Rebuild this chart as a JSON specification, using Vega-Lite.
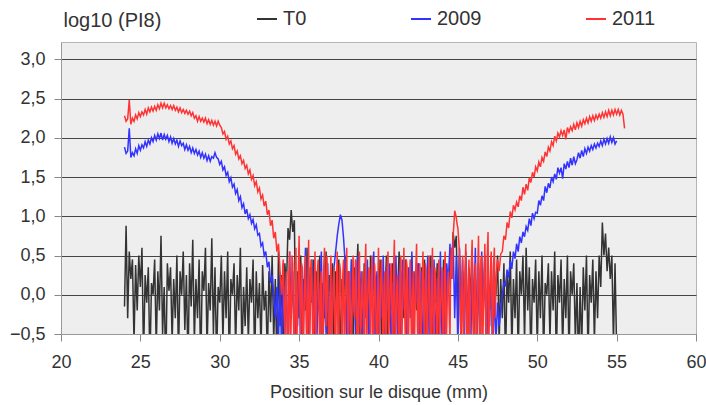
{
"$schema": "https://vega.github.io/schema/vega-lite/v6.json",
"width": 635, "height": 292,
"autosize": {"type": "none"},
"padding": {"left": 61, "top": 42, "right": 10, "bottom": 71},
"background": "white",
"config": {
  "font": "Liberation Sans",
  "view": {"fill": "#eeeeee", "stroke": "#b5b5b5", "strokeWidth": 1},
  "axis": {"labelColor": "#333333", "titleColor": "#333333", "labelFont": "Liberation Sans", "titleFont": "Liberation Sans", "titleFontWeight": "normal"}
},
"datasets": {
"t0": [
{"x":24.0,"y":-0.15},{"x":24.1,"y":0.88},{"x":24.2,"y":-0.3},{"x":24.3,"y":0.55},{"x":24.4,"y":0.2},{"x":24.5,"y":0.45},{"x":24.6,"y":-0.6},{"x":24.7,"y":0.38},{"x":24.8,"y":-0.2},{"x":24.9,"y":0.5},
{"x":25.0,"y":0.1},{"x":25.1,"y":0.6},{"x":25.2,"y":-0.8},{"x":25.3,"y":0.25},{"x":25.4,"y":-0.1},{"x":25.5,"y":0.35},{"x":25.6,"y":-0.9},{"x":25.7,"y":0.15},{"x":25.8,"y":0.0},{"x":25.9,"y":0.45},
{"x":26.0,"y":-0.7},{"x":26.1,"y":0.3},{"x":26.2,"y":-0.2},{"x":26.3,"y":0.75},{"x":26.4,"y":-0.5},{"x":26.5,"y":0.1},{"x":26.6,"y":-1.0},{"x":26.7,"y":0.4},{"x":26.8,"y":0.05},{"x":26.9,"y":0.35},
{"x":27.0,"y":-0.6},{"x":27.1,"y":0.2},{"x":27.2,"y":-0.3},{"x":27.3,"y":0.5},{"x":27.4,"y":-0.8},{"x":27.5,"y":0.3},{"x":27.6,"y":0.0},{"x":27.7,"y":0.55},{"x":27.8,"y":-0.45},{"x":27.9,"y":0.25},
{"x":28.0,"y":-0.9},{"x":28.1,"y":0.4},{"x":28.2,"y":-0.15},{"x":28.3,"y":0.7},{"x":28.4,"y":-0.6},{"x":28.5,"y":0.2},{"x":28.6,"y":-0.3},{"x":28.7,"y":0.45},{"x":28.8,"y":-1.0},{"x":28.9,"y":0.3},
{"x":29.0,"y":0.05},{"x":29.1,"y":0.6},{"x":29.2,"y":-0.7},{"x":29.3,"y":0.15},{"x":29.4,"y":-0.2},{"x":29.5,"y":0.72},{"x":29.6,"y":-0.5},{"x":29.7,"y":0.35},{"x":29.8,"y":-0.85},{"x":29.9,"y":0.1},
{"x":30.0,"y":-0.1},{"x":30.1,"y":0.5},{"x":30.2,"y":-0.6},{"x":30.3,"y":0.3},{"x":30.4,"y":-0.3},{"x":30.5,"y":0.55},{"x":30.6,"y":-0.9},{"x":30.7,"y":0.2},{"x":30.8,"y":0.0},{"x":30.9,"y":0.4},
{"x":31.0,"y":-0.7},{"x":31.1,"y":0.25},{"x":31.2,"y":-0.2},{"x":31.3,"y":0.6},{"x":31.4,"y":-0.8},{"x":31.5,"y":0.1},{"x":31.6,"y":-0.4},{"x":31.7,"y":0.35},{"x":31.8,"y":-0.6},{"x":31.9,"y":0.2},
{"x":32.0,"y":-0.1},{"x":32.1,"y":0.45},{"x":32.2,"y":-0.9},{"x":32.3,"y":0.3},{"x":32.4,"y":-0.3},{"x":32.5,"y":0.15},{"x":32.6,"y":-0.7},{"x":32.7,"y":0.38},{"x":32.8,"y":-0.2},{"x":32.9,"y":0.05},
{"x":33.0,"y":-0.8},{"x":33.1,"y":0.3},{"x":33.2,"y":-0.35},{"x":33.3,"y":0.5},{"x":33.4,"y":-0.6},{"x":33.5,"y":0.2},{"x":33.6,"y":-0.9},{"x":33.7,"y":0.55},{"x":33.8,"y":-0.4},{"x":33.9,"y":0.25},
{"x":34.0,"y":-0.7},{"x":34.1,"y":0.4},{"x":34.2,"y":0.1},{"x":34.3,"y":0.85},{"x":34.4,"y":0.7},{"x":34.5,"y":1.08},{"x":34.6,"y":0.8},{"x":34.7,"y":0.95},{"x":34.8,"y":-0.6},{"x":34.9,"y":0.3},
{"x":35.0,"y":-0.3},{"x":35.1,"y":0.5},{"x":35.2,"y":-0.8},{"x":35.3,"y":0.2},{"x":35.4,"y":-0.2},{"x":35.5,"y":0.6},{"x":35.6,"y":-0.7},{"x":35.7,"y":0.35},{"x":35.8,"y":-0.1},{"x":35.9,"y":0.45},
{"x":36.0,"y":-0.9},{"x":36.1,"y":0.3},{"x":36.2,"y":-0.2},{"x":36.3,"y":0.5},{"x":36.4,"y":-0.6},{"x":36.5,"y":0.15},{"x":36.6,"y":-0.3},{"x":36.7,"y":0.55},{"x":36.8,"y":-0.8},{"x":36.9,"y":0.25},
{"x":37.0,"y":0.0},{"x":37.1,"y":0.4},{"x":37.2,"y":-0.7},{"x":37.3,"y":0.3},{"x":37.4,"y":-0.2},{"x":37.5,"y":0.45},{"x":37.6,"y":-0.9},{"x":37.7,"y":0.2},{"x":37.8,"y":-0.1},{"x":37.9,"y":0.5},
{"x":38.0,"y":-0.6},{"x":38.1,"y":0.3},{"x":38.2,"y":-0.3},{"x":38.3,"y":0.45},{"x":38.4,"y":-0.8},{"x":38.5,"y":0.35},{"x":38.6,"y":0.1},{"x":38.7,"y":0.65},{"x":38.8,"y":-0.5},{"x":38.9,"y":0.2},
{"x":39.0,"y":-0.9},{"x":39.1,"y":0.4},{"x":39.2,"y":-0.2},{"x":39.3,"y":0.3},{"x":39.4,"y":-0.7},{"x":39.5,"y":0.5},{"x":39.6,"y":0.0},{"x":39.7,"y":0.35},{"x":39.8,"y":-0.6},{"x":39.9,"y":0.25},
{"x":40.0,"y":-0.3},{"x":40.1,"y":0.45},{"x":40.2,"y":-0.8},{"x":40.3,"y":0.2},{"x":40.4,"y":-0.1},{"x":40.5,"y":0.5},{"x":40.6,"y":-0.7},{"x":40.7,"y":0.3},{"x":40.8,"y":-0.2},{"x":40.9,"y":0.4},
{"x":41.0,"y":-0.9},{"x":41.1,"y":0.25},{"x":41.2,"y":0.0},{"x":41.3,"y":0.55},{"x":41.4,"y":-0.6},{"x":41.5,"y":0.3},{"x":41.6,"y":-0.3},{"x":41.7,"y":0.45},{"x":41.8,"y":-0.8},{"x":41.9,"y":0.2},
{"x":42.0,"y":-0.1},{"x":42.1,"y":0.5},{"x":42.2,"y":-0.7},{"x":42.3,"y":0.3},{"x":42.4,"y":-0.2},{"x":42.5,"y":0.4},{"x":42.6,"y":-0.9},{"x":42.7,"y":0.35},{"x":42.8,"y":0.05},{"x":42.9,"y":0.45},
{"x":43.0,"y":-0.6},{"x":43.1,"y":0.2},{"x":43.2,"y":-0.3},{"x":43.3,"y":0.5},{"x":43.4,"y":-0.8},{"x":43.5,"y":0.25},{"x":43.6,"y":-0.1},{"x":43.7,"y":0.4},{"x":43.8,"y":-0.7},{"x":43.9,"y":0.3},
{"x":44.0,"y":-0.2},{"x":44.1,"y":0.45},{"x":44.2,"y":-0.9},{"x":44.3,"y":0.2},{"x":44.4,"y":0.0},{"x":44.5,"y":0.55},{"x":44.6,"y":0.3},{"x":44.7,"y":0.8},{"x":44.8,"y":0.6},{"x":44.9,"y":0.75},
{"x":45.0,"y":-0.3},{"x":45.1,"y":0.5},{"x":45.2,"y":-0.7},{"x":45.3,"y":0.3},{"x":45.4,"y":-0.2},{"x":45.5,"y":0.45},{"x":45.6,"y":-0.8},{"x":45.7,"y":0.35},{"x":45.8,"y":0.0},{"x":45.9,"y":0.5},
{"x":46.0,"y":-0.6},{"x":46.1,"y":0.2},{"x":46.2,"y":-0.3},{"x":46.3,"y":0.4},{"x":46.4,"y":-0.9},{"x":46.5,"y":0.3},{"x":46.6,"y":-0.1},{"x":46.7,"y":0.5},{"x":46.8,"y":-0.7},{"x":46.9,"y":0.25},
{"x":47.0,"y":-0.2},{"x":47.1,"y":0.45},{"x":47.2,"y":-0.8},{"x":47.3,"y":0.3},{"x":47.4,"y":0.0},{"x":47.5,"y":0.5},{"x":47.6,"y":-0.6},{"x":47.7,"y":0.2},{"x":47.8,"y":-0.3},{"x":47.9,"y":0.4},
{"x":48.0,"y":-0.9},{"x":48.1,"y":0.3},{"x":48.2,"y":-0.1},{"x":48.3,"y":0.55},{"x":48.4,"y":-0.7},{"x":48.5,"y":0.2},{"x":48.6,"y":-0.3},{"x":48.7,"y":0.45},{"x":48.8,"y":-0.8},{"x":48.9,"y":0.3},
{"x":49.0,"y":0.0},{"x":49.1,"y":0.5},{"x":49.2,"y":-0.6},{"x":49.3,"y":0.6},{"x":49.4,"y":-0.2},{"x":49.5,"y":0.35},{"x":49.6,"y":-0.9},{"x":49.7,"y":0.2},{"x":49.8,"y":-0.1},{"x":49.9,"y":0.45},
{"x":50.0,"y":-0.7},{"x":50.1,"y":0.3},{"x":50.2,"y":-0.3},{"x":50.3,"y":0.5},{"x":50.4,"y":-0.8},{"x":50.5,"y":0.15},{"x":50.6,"y":0.0},{"x":50.7,"y":0.4},{"x":50.8,"y":-0.6},{"x":50.9,"y":0.3},
{"x":51.0,"y":-0.2},{"x":51.1,"y":0.55},{"x":51.2,"y":-0.9},{"x":51.3,"y":0.25},{"x":51.4,"y":-0.1},{"x":51.5,"y":0.45},{"x":51.6,"y":-0.7},{"x":51.7,"y":0.2},{"x":51.8,"y":-0.3},{"x":51.9,"y":0.5},
{"x":52.0,"y":-0.8},{"x":52.1,"y":0.3},{"x":52.2,"y":0.0},{"x":52.3,"y":0.4},{"x":52.4,"y":-0.6},{"x":52.5,"y":0.15},{"x":52.6,"y":-0.9},{"x":52.7,"y":0.1},{"x":52.8,"y":-0.7},{"x":52.9,"y":0.35},
{"x":53.0,"y":-0.2},{"x":53.1,"y":0.5},{"x":53.2,"y":-0.8},{"x":53.3,"y":0.25},{"x":53.4,"y":-0.1},{"x":53.5,"y":0.45},{"x":53.6,"y":-0.6},{"x":53.7,"y":0.3},{"x":53.8,"y":-0.3},{"x":53.9,"y":0.5},
{"x":54.0,"y":0.1},{"x":54.1,"y":0.92},{"x":54.2,"y":0.5},{"x":54.3,"y":0.78},{"x":54.4,"y":0.3},{"x":54.5,"y":0.6},{"x":54.6,"y":0.2},{"x":54.7,"y":0.5},{"x":54.8,"y":-0.6},{"x":54.9,"y":0.4},
{"x":55.0,"y":-0.7}
],
"b09": [
{"x":24.0,"y":1.88},{"x":24.1,"y":1.80},{"x":24.2,"y":1.83},{"x":24.3,"y":2.12},{"x":24.4,"y":1.75},{"x":24.5,"y":1.81},{"x":24.6,"y":1.77},{"x":24.7,"y":1.86},{"x":24.8,"y":1.80},{"x":24.9,"y":1.90},
{"x":25.0,"y":1.84},{"x":25.1,"y":1.91},{"x":25.2,"y":1.87},{"x":25.3,"y":1.95},{"x":25.4,"y":1.89},{"x":25.5,"y":1.97},{"x":25.6,"y":1.92},{"x":25.7,"y":2.00},{"x":25.8,"y":1.95},{"x":25.9,"y":2.03},
{"x":26.0,"y":1.97},{"x":26.1,"y":2.05},{"x":26.2,"y":1.99},{"x":26.3,"y":2.06},{"x":26.4,"y":1.97},{"x":26.5,"y":2.04},{"x":26.6,"y":1.98},{"x":26.7,"y":2.03},{"x":26.8,"y":1.95},{"x":26.9,"y":2.01},
{"x":27.0,"y":1.93},{"x":27.1,"y":1.99},{"x":27.2,"y":1.92},{"x":27.3,"y":1.97},{"x":27.4,"y":1.89},{"x":27.5,"y":1.96},{"x":27.6,"y":1.90},{"x":27.7,"y":1.93},{"x":27.8,"y":1.85},{"x":27.9,"y":1.91},
{"x":28.0,"y":1.84},{"x":28.1,"y":1.89},{"x":28.2,"y":1.81},{"x":28.3,"y":1.87},{"x":28.4,"y":1.80},{"x":28.5,"y":1.85},{"x":28.6,"y":1.78},{"x":28.7,"y":1.83},{"x":28.8,"y":1.75},{"x":28.9,"y":1.81},
{"x":29.0,"y":1.74},{"x":29.1,"y":1.79},{"x":29.2,"y":1.71},{"x":29.3,"y":1.77},{"x":29.4,"y":1.70},{"x":29.5,"y":1.76},{"x":29.6,"y":1.74},{"x":29.7,"y":1.81},{"x":29.8,"y":1.75},{"x":29.9,"y":1.73},
{"x":30.0,"y":1.66},{"x":30.1,"y":1.70},{"x":30.2,"y":1.59},{"x":30.3,"y":1.63},{"x":30.4,"y":1.52},{"x":30.5,"y":1.56},{"x":30.6,"y":1.44},{"x":30.7,"y":1.49},{"x":30.8,"y":1.37},{"x":30.9,"y":1.41},
{"x":31.0,"y":1.29},{"x":31.1,"y":1.34},{"x":31.2,"y":1.20},{"x":31.3,"y":1.25},{"x":31.4,"y":1.11},{"x":31.5,"y":1.16},{"x":31.6,"y":1.03},{"x":31.7,"y":1.09},{"x":31.8,"y":0.97},{"x":31.9,"y":1.02},
{"x":32.0,"y":0.91},{"x":32.1,"y":0.96},{"x":32.2,"y":0.84},{"x":32.3,"y":0.89},{"x":32.4,"y":0.76},{"x":32.5,"y":0.78},{"x":32.6,"y":0.62},{"x":32.7,"y":0.66},{"x":32.8,"y":0.50},{"x":32.9,"y":0.55},
{"x":33.0,"y":0.35},{"x":33.1,"y":0.42},{"x":33.2,"y":0.15},{"x":33.3,"y":0.25},{"x":33.4,"y":-0.02},{"x":33.5,"y":-0.3},{"x":33.6,"y":0.1},{"x":33.7,"y":-0.6},{"x":33.8,"y":0.25},{"x":33.9,"y":-0.8},
{"x":34.0,"y":0.4},{"x":34.1,"y":-0.5},{"x":34.2,"y":0.2},{"x":34.3,"y":-0.9},{"x":34.4,"y":0.55},{"x":34.5,"y":-0.3},{"x":34.6,"y":0.3},{"x":34.7,"y":-0.7},{"x":34.8,"y":0.15},{"x":34.9,"y":-0.4},
{"x":35.0,"y":0.5},{"x":35.1,"y":-0.8},{"x":35.2,"y":0.35},{"x":35.3,"y":-0.2},{"x":35.4,"y":0.6},{"x":35.5,"y":-0.9},{"x":35.6,"y":0.25},{"x":35.7,"y":-0.1},{"x":35.8,"y":0.45},{"x":35.9,"y":-0.6},
{"x":36.0,"y":0.3},{"x":36.1,"y":-0.8},{"x":36.2,"y":0.2},{"x":36.3,"y":-0.3},{"x":36.4,"y":0.55},{"x":36.5,"y":-0.7},{"x":36.6,"y":0.1},{"x":36.7,"y":-0.5},{"x":36.8,"y":0.4},{"x":36.9,"y":-0.9},
{"x":37.0,"y":0.2},{"x":37.1,"y":-0.2},{"x":37.2,"y":0.35},{"x":37.3,"y":0.55},{"x":37.4,"y":0.75},{"x":37.5,"y":0.9},{"x":37.6,"y":1.02},{"x":37.7,"y":0.95},{"x":37.8,"y":0.72},{"x":37.9,"y":0.4},
{"x":38.0,"y":-0.6},{"x":38.1,"y":0.3},{"x":38.2,"y":-0.8},{"x":38.3,"y":0.45},{"x":38.4,"y":-0.2},{"x":38.5,"y":0.2},{"x":38.6,"y":-0.9},{"x":38.7,"y":0.5},{"x":38.8,"y":-0.4},{"x":38.9,"y":0.3},
{"x":39.0,"y":-0.7},{"x":39.1,"y":0.15},{"x":39.2,"y":-0.3},{"x":39.3,"y":0.45},{"x":39.4,"y":-0.8},{"x":39.5,"y":0.25},{"x":39.6,"y":-0.1},{"x":39.7,"y":0.55},{"x":39.8,"y":-0.6},{"x":39.9,"y":0.3},
{"x":40.0,"y":-0.9},{"x":40.1,"y":0.2},{"x":40.2,"y":-0.3},{"x":40.3,"y":0.5},{"x":40.4,"y":-0.7},{"x":40.5,"y":0.35},{"x":40.6,"y":-0.2},{"x":40.7,"y":0.4},{"x":40.8,"y":-0.8},{"x":40.9,"y":0.15},
{"x":41.0,"y":-0.4},{"x":41.1,"y":0.5},{"x":41.2,"y":-0.6},{"x":41.3,"y":0.3},{"x":41.4,"y":-0.9},{"x":41.5,"y":0.45},{"x":41.6,"y":-0.2},{"x":41.7,"y":0.2},{"x":41.8,"y":-0.7},{"x":41.9,"y":0.35},
{"x":42.0,"y":-0.3},{"x":42.1,"y":0.55},{"x":42.2,"y":-0.8},{"x":42.3,"y":0.25},{"x":42.4,"y":-0.1},{"x":42.5,"y":0.4},{"x":42.6,"y":-0.6},{"x":42.7,"y":0.3},{"x":42.8,"y":-0.9},{"x":42.9,"y":0.2},
{"x":43.0,"y":-0.2},{"x":43.1,"y":0.5},{"x":43.2,"y":-0.7},{"x":43.3,"y":0.35},{"x":43.4,"y":-0.4},{"x":43.5,"y":0.45},{"x":43.6,"y":-0.8},{"x":43.7,"y":0.2},{"x":43.8,"y":-0.3},{"x":43.9,"y":0.55},
{"x":44.0,"y":-0.6},{"x":44.1,"y":0.3},{"x":44.2,"y":-0.9},{"x":44.3,"y":0.4},{"x":44.4,"y":0.1},{"x":44.5,"y":0.65},{"x":44.6,"y":0.2},{"x":44.7,"y":0.7},{"x":44.8,"y":-0.3},{"x":44.9,"y":0.5},
{"x":45.0,"y":-0.7},{"x":45.1,"y":0.6},{"x":45.2,"y":-0.2},{"x":45.3,"y":0.45},{"x":45.4,"y":-0.8},{"x":45.5,"y":0.55},{"x":45.6,"y":-0.4},{"x":45.7,"y":0.3},{"x":45.8,"y":-0.9},{"x":45.9,"y":0.5},
{"x":46.0,"y":-0.3},{"x":46.1,"y":0.6},{"x":46.2,"y":-0.6},{"x":46.3,"y":0.35},{"x":46.4,"y":-0.5},{"x":46.5,"y":0.55},{"x":46.6,"y":-0.2},{"x":46.7,"y":0.4},{"x":46.8,"y":-0.7},{"x":46.9,"y":0.3},
{"x":47.0,"y":-0.4},{"x":47.1,"y":0.5},{"x":47.2,"y":-0.8},{"x":47.3,"y":0.1},{"x":47.4,"y":-0.6},{"x":47.5,"y":-0.1},{"x":47.6,"y":-0.4},{"x":47.7,"y":-0.2},{"x":47.8,"y":0.0},{"x":47.9,"y":0.15},
{"x":48.0,"y":0.12},{"x":48.1,"y":0.32},{"x":48.2,"y":0.22},{"x":48.3,"y":0.44},{"x":48.4,"y":0.33},{"x":48.5,"y":0.55},{"x":48.6,"y":0.46},{"x":48.7,"y":0.65},{"x":48.8,"y":0.55},{"x":48.9,"y":0.74},
{"x":49.0,"y":0.66},{"x":49.1,"y":0.80},{"x":49.2,"y":0.74},{"x":49.3,"y":0.87},{"x":49.4,"y":0.82},{"x":49.5,"y":0.97},{"x":49.6,"y":0.88},{"x":49.7,"y":1.04},{"x":49.8,"y":0.97},{"x":49.9,"y":1.05},
{"x":50.0,"y":1.04},{"x":50.1,"y":1.20},{"x":50.2,"y":1.14},{"x":50.3,"y":1.26},{"x":50.4,"y":1.20},{"x":50.5,"y":1.38},{"x":50.6,"y":1.30},{"x":50.7,"y":1.42},{"x":50.8,"y":1.36},{"x":50.9,"y":1.50},
{"x":51.0,"y":1.44},{"x":51.1,"y":1.54},{"x":51.2,"y":1.47},{"x":51.3,"y":1.62},{"x":51.4,"y":1.55},{"x":51.5,"y":1.62},{"x":51.6,"y":1.48},{"x":51.7,"y":1.67},{"x":51.8,"y":1.60},{"x":51.9,"y":1.70},
{"x":52.0,"y":1.62},{"x":52.1,"y":1.74},{"x":52.2,"y":1.65},{"x":52.3,"y":1.76},{"x":52.4,"y":1.67},{"x":52.5,"y":1.72},{"x":52.6,"y":1.81},{"x":52.7,"y":1.74},{"x":52.8,"y":1.84},{"x":52.9,"y":1.76},
{"x":53.0,"y":1.86},{"x":53.1,"y":1.80},{"x":53.2,"y":1.88},{"x":53.3,"y":1.83},{"x":53.4,"y":1.90},{"x":53.5,"y":1.85},{"x":53.6,"y":1.92},{"x":53.7,"y":1.87},{"x":53.8,"y":1.93},{"x":53.9,"y":1.89},
{"x":54.0,"y":1.96},{"x":54.1,"y":1.90},{"x":54.2,"y":1.98},{"x":54.3,"y":1.92},{"x":54.4,"y":1.99},{"x":54.5,"y":1.93},{"x":54.6,"y":2.01},{"x":54.7,"y":1.94},{"x":54.8,"y":2.00},{"x":54.9,"y":1.92},
{"x":55.0,"y":1.96}
],
"r11": [
{"x":24.0,"y":2.28},{"x":24.1,"y":2.21},{"x":24.2,"y":2.24},{"x":24.3,"y":2.48},{"x":24.4,"y":2.17},{"x":24.5,"y":2.25},{"x":24.6,"y":2.21},{"x":24.7,"y":2.29},{"x":24.8,"y":2.24},{"x":24.9,"y":2.32},
{"x":25.0,"y":2.27},{"x":25.1,"y":2.33},{"x":25.2,"y":2.29},{"x":25.3,"y":2.36},{"x":25.4,"y":2.30},{"x":25.5,"y":2.38},{"x":25.6,"y":2.33},{"x":25.7,"y":2.39},{"x":25.8,"y":2.34},{"x":25.9,"y":2.40},
{"x":26.0,"y":2.35},{"x":26.1,"y":2.42},{"x":26.2,"y":2.37},{"x":26.3,"y":2.44},{"x":26.4,"y":2.38},{"x":26.5,"y":2.44},{"x":26.6,"y":2.38},{"x":26.7,"y":2.42},{"x":26.8,"y":2.37},{"x":26.9,"y":2.41},
{"x":27.0,"y":2.36},{"x":27.1,"y":2.41},{"x":27.2,"y":2.35},{"x":27.3,"y":2.39},{"x":27.4,"y":2.33},{"x":27.5,"y":2.38},{"x":27.6,"y":2.32},{"x":27.7,"y":2.36},{"x":27.8,"y":2.31},{"x":27.9,"y":2.35},
{"x":28.0,"y":2.30},{"x":28.1,"y":2.34},{"x":28.2,"y":2.28},{"x":28.3,"y":2.32},{"x":28.4,"y":2.25},{"x":28.5,"y":2.28},{"x":28.6,"y":2.21},{"x":28.7,"y":2.27},{"x":28.8,"y":2.21},{"x":28.9,"y":2.25},
{"x":29.0,"y":2.20},{"x":29.1,"y":2.25},{"x":29.2,"y":2.18},{"x":29.3,"y":2.23},{"x":29.4,"y":2.17},{"x":29.5,"y":2.22},{"x":29.6,"y":2.16},{"x":29.7,"y":2.21},{"x":29.8,"y":2.15},{"x":29.9,"y":2.21},
{"x":30.0,"y":2.16},{"x":30.1,"y":2.13},{"x":30.2,"y":2.05},{"x":30.3,"y":2.08},{"x":30.4,"y":1.98},{"x":30.5,"y":2.02},{"x":30.6,"y":1.92},{"x":30.7,"y":1.96},{"x":30.8,"y":1.86},{"x":30.9,"y":1.90},
{"x":31.0,"y":1.79},{"x":31.1,"y":1.83},{"x":31.2,"y":1.73},{"x":31.3,"y":1.77},{"x":31.4,"y":1.67},{"x":31.5,"y":1.71},{"x":31.6,"y":1.61},{"x":31.7,"y":1.65},{"x":31.8,"y":1.54},{"x":31.9,"y":1.59},
{"x":32.0,"y":1.47},{"x":32.1,"y":1.52},{"x":32.2,"y":1.39},{"x":32.3,"y":1.44},{"x":32.4,"y":1.31},{"x":32.5,"y":1.36},{"x":32.6,"y":1.22},{"x":32.7,"y":1.27},{"x":32.8,"y":1.13},{"x":32.9,"y":1.19},
{"x":33.0,"y":1.02},{"x":33.1,"y":1.08},{"x":33.2,"y":0.88},{"x":33.3,"y":0.95},{"x":33.4,"y":0.72},{"x":33.5,"y":0.80},{"x":33.6,"y":0.55},{"x":33.7,"y":0.65},{"x":33.8,"y":0.30},{"x":33.9,"y":0.0},
{"x":34.0,"y":0.45},{"x":34.1,"y":-0.5},{"x":34.2,"y":0.3},{"x":34.3,"y":-0.8},{"x":34.4,"y":0.55},{"x":34.5,"y":-0.3},{"x":34.6,"y":0.4},{"x":34.7,"y":-0.9},{"x":34.8,"y":0.6},{"x":34.9,"y":-0.2},
{"x":35.0,"y":0.75},{"x":35.1,"y":-0.7},{"x":35.2,"y":0.35},{"x":35.3,"y":-0.4},{"x":35.4,"y":0.5},{"x":35.5,"y":-0.9},{"x":35.6,"y":0.7},{"x":35.7,"y":-0.3},{"x":35.8,"y":0.25},{"x":35.9,"y":-0.8},
{"x":36.0,"y":0.55},{"x":36.1,"y":-0.2},{"x":36.2,"y":0.45},{"x":36.3,"y":-0.7},{"x":36.4,"y":0.3},{"x":36.5,"y":-0.9},{"x":36.6,"y":0.6},{"x":36.7,"y":-0.4},{"x":36.8,"y":0.2},{"x":36.9,"y":-0.8},
{"x":37.0,"y":0.5},{"x":37.1,"y":-0.3},{"x":37.2,"y":0.35},{"x":37.3,"y":-0.9},{"x":37.4,"y":0.55},{"x":37.5,"y":-0.5},{"x":37.6,"y":0.3},{"x":37.7,"y":-0.8},{"x":37.8,"y":0.45},{"x":37.9,"y":-0.2},
{"x":38.0,"y":0.6},{"x":38.1,"y":-0.7},{"x":38.2,"y":0.25},{"x":38.3,"y":-0.9},{"x":38.4,"y":0.5},{"x":38.5,"y":-0.3},{"x":38.6,"y":0.4},{"x":38.7,"y":-0.8},{"x":38.8,"y":0.55},{"x":38.9,"y":-0.4},
{"x":39.0,"y":0.3},{"x":39.1,"y":-0.9},{"x":39.2,"y":0.65},{"x":39.3,"y":-0.2},{"x":39.4,"y":0.35},{"x":39.5,"y":-0.7},{"x":39.6,"y":0.5},{"x":39.7,"y":-0.5},{"x":39.8,"y":0.2},{"x":39.9,"y":-0.8},
{"x":40.0,"y":0.6},{"x":40.1,"y":-0.3},{"x":40.2,"y":0.45},{"x":40.3,"y":-0.9},{"x":40.4,"y":0.3},{"x":40.5,"y":-0.6},{"x":40.6,"y":0.55},{"x":40.7,"y":-0.2},{"x":40.8,"y":0.4},{"x":40.9,"y":-0.8},
{"x":41.0,"y":0.7},{"x":41.1,"y":-0.4},{"x":41.2,"y":0.25},{"x":41.3,"y":-0.9},{"x":41.4,"y":0.5},{"x":41.5,"y":-0.3},{"x":41.6,"y":0.6},{"x":41.7,"y":-0.7},{"x":41.8,"y":0.35},{"x":41.9,"y":-0.5},
{"x":42.0,"y":0.45},{"x":42.1,"y":-0.9},{"x":42.2,"y":0.3},{"x":42.3,"y":-0.2},{"x":42.4,"y":0.65},{"x":42.5,"y":-0.8},{"x":42.6,"y":0.4},{"x":42.7,"y":-0.4},{"x":42.8,"y":0.55},{"x":42.9,"y":-0.9},
{"x":43.0,"y":0.3},{"x":43.1,"y":-0.3},{"x":43.2,"y":0.5},{"x":43.3,"y":-0.7},{"x":43.4,"y":0.6},{"x":43.5,"y":-0.5},{"x":43.6,"y":0.2},{"x":43.7,"y":-0.9},{"x":43.8,"y":0.45},{"x":43.9,"y":-0.2},
{"x":44.0,"y":0.35},{"x":44.1,"y":-0.8},{"x":44.2,"y":0.55},{"x":44.3,"y":-0.4},{"x":44.4,"y":0.3},{"x":44.5,"y":-0.6},{"x":44.6,"y":0.6},{"x":44.7,"y":0.75},{"x":44.8,"y":1.07},{"x":44.9,"y":0.98},
{"x":45.0,"y":0.85},{"x":45.1,"y":0.55},{"x":45.2,"y":-0.6},{"x":45.3,"y":0.5},{"x":45.4,"y":-0.3},{"x":45.5,"y":0.65},{"x":45.6,"y":-0.8},{"x":45.7,"y":0.45},{"x":45.8,"y":-0.2},{"x":45.9,"y":0.7},
{"x":46.0,"y":-0.7},{"x":46.1,"y":0.4},{"x":46.2,"y":-0.5},{"x":46.3,"y":0.75},{"x":46.4,"y":-0.9},{"x":46.5,"y":0.5},{"x":46.6,"y":-0.3},{"x":46.7,"y":0.65},{"x":46.8,"y":-0.6},{"x":46.9,"y":0.8},
{"x":47.0,"y":-0.2},{"x":47.1,"y":0.55},{"x":47.2,"y":-0.7},{"x":47.3,"y":0.6},{"x":47.4,"y":0.1},{"x":47.5,"y":0.45},{"x":47.6,"y":0.3},{"x":47.7,"y":0.52},{"x":47.8,"y":0.55},{"x":47.9,"y":0.75},
{"x":48.0,"y":0.70},{"x":48.1,"y":0.92},{"x":48.2,"y":0.85},{"x":48.3,"y":1.06},{"x":48.4,"y":0.98},{"x":48.5,"y":1.14},{"x":48.6,"y":1.08},{"x":48.7,"y":1.18},{"x":48.8,"y":1.12},{"x":48.9,"y":1.26},
{"x":49.0,"y":1.20},{"x":49.1,"y":1.37},{"x":49.2,"y":1.28},{"x":49.3,"y":1.41},{"x":49.4,"y":1.33},{"x":49.5,"y":1.49},{"x":49.6,"y":1.43},{"x":49.7,"y":1.56},{"x":49.8,"y":1.50},{"x":49.9,"y":1.63},
{"x":50.0,"y":1.58},{"x":50.1,"y":1.69},{"x":50.2,"y":1.63},{"x":50.3,"y":1.75},{"x":50.4,"y":1.70},{"x":50.5,"y":1.82},{"x":50.6,"y":1.76},{"x":50.7,"y":1.88},{"x":50.8,"y":1.83},{"x":50.9,"y":1.95},
{"x":51.0,"y":1.90},{"x":51.1,"y":2.02},{"x":51.2,"y":1.96},{"x":51.3,"y":2.06},{"x":51.4,"y":2.01},{"x":51.5,"y":2.09},{"x":51.6,"y":2.03},{"x":51.7,"y":2.10},{"x":51.8,"y":1.98},{"x":51.9,"y":2.13},
{"x":52.0,"y":2.07},{"x":52.1,"y":2.14},{"x":52.2,"y":2.09},{"x":52.3,"y":2.17},{"x":52.4,"y":2.10},{"x":52.5,"y":2.19},{"x":52.6,"y":2.13},{"x":52.7,"y":2.21},{"x":52.8,"y":2.15},{"x":52.9,"y":2.23},
{"x":53.0,"y":2.18},{"x":53.1,"y":2.25},{"x":53.2,"y":2.19},{"x":53.3,"y":2.27},{"x":53.4,"y":2.21},{"x":53.5,"y":2.28},{"x":53.6,"y":2.22},{"x":53.7,"y":2.29},{"x":53.8,"y":2.24},{"x":53.9,"y":2.30},
{"x":54.0,"y":2.25},{"x":54.1,"y":2.32},{"x":54.2,"y":2.26},{"x":54.3,"y":2.33},{"x":54.4,"y":2.27},{"x":54.5,"y":2.35},{"x":54.6,"y":2.28},{"x":54.7,"y":2.35},{"x":54.8,"y":2.29},{"x":54.9,"y":2.36},
{"x":55.0,"y":2.30},{"x":55.1,"y":2.36},{"x":55.2,"y":2.29},{"x":55.3,"y":2.35},{"x":55.4,"y":2.30},{"x":55.5,"y":2.12},
{"x":34.05,"y":-0.2},{"x":34.15,"y":0.1},{"x":34.25,"y":-0.6},{"x":34.35,"y":0.2},{"x":34.45,"y":-0.9},{"x":34.55,"y":0.5},{"x":34.65,"y":-0.4},{"x":34.75,"y":0.0},{"x":34.85,"y":-0.7},{"x":34.95,"y":0.3},
{"x":35.05,"y":-0.1},{"x":35.15,"y":0.4},{"x":35.25,"y":-0.8},{"x":35.35,"y":0.1},{"x":35.45,"y":-0.3},{"x":35.55,"y":0.2},{"x":35.65,"y":-0.9},{"x":35.75,"y":0.45},{"x":35.85,"y":-0.5},{"x":35.95,"y":0.1},
{"x":36.05,"y":-0.7},{"x":36.15,"y":0.3},{"x":36.25,"y":-0.2},{"x":36.35,"y":0.15},{"x":36.45,"y":-0.8},{"x":36.55,"y":0.35},{"x":36.65,"y":-0.1},{"x":36.75,"y":0.5},{"x":36.85,"y":-0.6},{"x":36.95,"y":0.0},
{"x":37.05,"y":-0.9},{"x":37.15,"y":0.2},{"x":37.25,"y":-0.4},{"x":37.35,"y":0.1},{"x":37.45,"y":-0.7},{"x":37.55,"y":0.4},{"x":37.65,"y":-0.2},{"x":37.75,"y":0.25},{"x":37.85,"y":-0.9},{"x":37.95,"y":0.15},
{"x":38.05,"y":-0.4},{"x":38.15,"y":0.3},{"x":38.25,"y":-0.7},{"x":38.35,"y":0.05},{"x":38.45,"y":-0.2},{"x":38.55,"y":0.45},{"x":38.65,"y":-0.9},{"x":38.75,"y":0.2},{"x":38.85,"y":-0.5},{"x":38.95,"y":0.1},
{"x":39.05,"y":-0.3},{"x":39.15,"y":0.35},{"x":39.25,"y":-0.8},{"x":39.35,"y":0.15},{"x":39.45,"y":-0.1},{"x":39.55,"y":0.3},{"x":39.65,"y":-0.9},{"x":39.75,"y":0.4},{"x":39.85,"y":-0.4},{"x":39.95,"y":0.05},
{"x":40.05,"y":-0.7},{"x":40.15,"y":0.25},{"x":40.25,"y":-0.2},{"x":40.35,"y":0.1},{"x":40.45,"y":-0.9},{"x":40.55,"y":0.4},{"x":40.65,"y":-0.5},{"x":40.75,"y":0.2},{"x":40.85,"y":-0.3},{"x":40.95,"y":0.35},
{"x":41.05,"y":-0.8},{"x":41.15,"y":0.1},{"x":41.25,"y":-0.4},{"x":41.35,"y":0.3},{"x":41.45,"y":-0.9},{"x":41.55,"y":0.15},{"x":41.65,"y":-0.2},{"x":41.75,"y":0.45},{"x":41.85,"y":-0.7},{"x":41.95,"y":0.2},
{"x":42.05,"y":-0.3},{"x":42.15,"y":0.05},{"x":42.25,"y":-0.9},{"x":42.35,"y":0.35},{"x":42.45,"y":-0.4},{"x":42.55,"y":0.2},{"x":42.65,"y":-0.8},{"x":42.75,"y":0.1},{"x":42.85,"y":-0.2},{"x":42.95,"y":0.4},
{"x":43.05,"y":-0.7},{"x":43.15,"y":0.25},{"x":43.25,"y":-0.5},{"x":43.35,"y":0.1},{"x":43.45,"y":-0.9},{"x":43.55,"y":0.35},{"x":43.65,"y":-0.3},{"x":43.75,"y":0.2},{"x":43.85,"y":-0.8},{"x":43.95,"y":0.1},
{"x":44.05,"y":-0.4},{"x":44.15,"y":0.3},{"x":44.25,"y":-0.9},{"x":44.35,"y":0.15},{"x":44.45,"y":-0.2},{"x":44.55,"y":0.4},{"x":44.65,"y":0.2},{"x":44.75,"y":0.9},{"x":44.85,"y":1.03},{"x":44.95,"y":0.9},
{"x":45.05,"y":0.7},{"x":45.15,"y":-0.2},{"x":45.25,"y":0.1},{"x":45.35,"y":-0.7},{"x":45.45,"y":0.3},{"x":45.55,"y":-0.4},{"x":45.65,"y":0.2},{"x":45.75,"y":-0.9},{"x":45.85,"y":0.4},{"x":45.95,"y":-0.3},
{"x":46.05,"y":0.15},{"x":46.15,"y":-0.8},{"x":46.25,"y":0.3},{"x":46.35,"y":-0.2},{"x":46.45,"y":0.45},{"x":46.55,"y":-0.9},{"x":46.65,"y":0.25},{"x":46.75,"y":-0.4},{"x":46.85,"y":0.5},{"x":46.95,"y":-0.6},
{"x":47.05,"y":0.3},{"x":47.15,"y":-0.2},{"x":47.25,"y":0.4},{"x":47.35,"y":-0.3},{"x":47.45,"y":0.35}
]
},
"encoding": {
  "x": {"field": "x", "type": "quantitative",
    "scale": {"domain": [20, 60], "nice": false, "zero": false},
    "axis": {"values": [20,25,30,35,40,45,50,55,60], "grid": false, "title": "Position sur le disque (mm)",
      "labelFontSize": 18, "titleFontSize": 18, "tickSize": 7, "labelPadding": 12, "titlePadding": 12,
      "domainColor": "#999999", "tickColor": "#888888", "labelFlush": false}},
  "y": {"field": "y", "type": "quantitative",
    "scale": {"domain": [-0.5, 3.22], "nice": false, "zero": false},
    "axis": {"values": [-0.5,0,0.5,1,1.5,2,2.5,3], "grid": true, "gridColor": "#444444", "gridWidth": 1,
      "labelExpr": "replace(format(datum.value, '.1f'), '.', ',')",
      "labelFontSize": 18, "tickSize": 7, "labelPadding": 9,
      "domainColor": "#999999", "tickColor": "#888888",
      "title": "log10 (PI8)", "titleFontSize": 20, "titleAngle": 0, "titleAlign": "left", "titleBaseline": "middle",
      "titleX": 2, "titleY": -22}}
},
"layer": [
  {"data": {"name": "t0"}, "mark": {"type": "line", "strokeWidth": 1.5, "clip": true},
   "encoding": {"color": {"datum": "T0", "type": "nominal",
     "scale": {"domain": ["T0", "2009", "2011"], "range": ["#333333", "#3333ff", "#ff3333"]},
     "legend": {"title": null, "orient": "none", "legendX": 195, "legendY": -34, "direction": "horizontal",
       "symbolType": "stroke", "symbolSize": 400, "symbolStrokeWidth": 2, "labelFontSize": 20, "labelColor": "#333333",
       "labelOffset": 5, "columnPadding": 100, "padding": 0}}}},
  {"data": {"name": "b09"}, "mark": {"type": "line", "strokeWidth": 1.5, "clip": true},
   "encoding": {"color": {"datum": "2009", "type": "nominal"}}},
  {"data": {"name": "r11"}, "mark": {"type": "line", "strokeWidth": 1.5, "clip": true},
   "encoding": {"color": {"datum": "2011", "type": "nominal"}}}
]
}
